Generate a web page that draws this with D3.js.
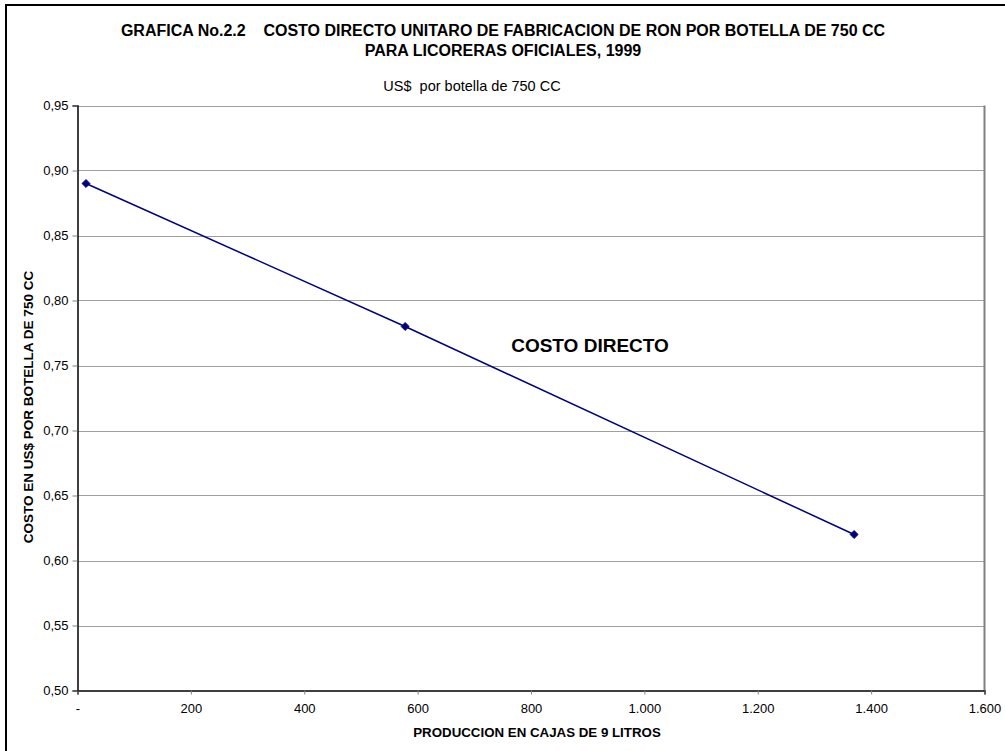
<!DOCTYPE html>
<html>
<head>
<meta charset="utf-8">
<script src="https://cdn.jsdelivr.net/npm/d3@7"></script>
<style>
  html, body { margin: 0; padding: 0; background: #fff; }
  svg { display: block; font-family: "Liberation Sans", Arial, sans-serif; }
</style>
</head>
<body>
<svg id="chart" width="1005" height="751"></svg>
<script>
// Production (cases of 9 litres) and direct unit cost (US$ per 750 cc bottle)
const produccion = [15, 578, 1370];
const costo = [0.89, 0.78, 0.62];

const xTickValues = [0, 200, 400, 600, 800, 1000, 1200, 1400, 1600];
const xTickLabels = ["-", "200", "400", "600", "800", "1.000", "1.200", "1.400", "1.600"];
const yTickValues = [0.50, 0.55, 0.60, 0.65, 0.70, 0.75, 0.80, 0.85, 0.90, 0.95];
const yTickLabels = ["0,50", "0,55", "0,60", "0,65", "0,70", "0,75", "0,80", "0,85", "0,90", "0,95"];

const titleLines = [
  "GRAFICA No.2.2\u00a0\u00a0\u00a0\u00a0COSTO DIRECTO UNITARO DE FABRICACION DE RON POR BOTELLA DE 750 CC",
  "PARA LICORERAS OFICIALES, 1999"
];
const subtitle = "US$\u00a0\u00a0por botella de 750 CC";
const xTitle = "PRODUCCION EN CAJAS DE 9 LITROS";
const yTitle = "COSTO EN US$ POR BOTELLA DE 750 CC";
const seriesLabel = "COSTO DIRECTO";

const svg = d3.select("#chart");
const plot = { left: 77.5, right: 984.5, top: 105.5, bottom: 690.5 };

const x = d3.scaleLinear().domain([0, 1600]).range([plot.left, plot.right]);
const y = d3.scaleLinear().domain([0.50, 0.95]).range([plot.bottom, plot.top]);

// outer chart frame (runs off the right and bottom edges)
svg.append("path")
  .attr("d", "M6,760 L6,5 L1015,5")
  .attr("fill", "none").attr("stroke", "#000").attr("stroke-width", 2);

// horizontal gridlines
svg.append("g")
  .selectAll("line")
  .data(yTickValues.filter(v => v > 0.5))
  .join("line")
  .attr("x1", plot.left).attr("x2", plot.right)
  .attr("y1", d => Math.round(y(d)) + 0.5).attr("y2", d => Math.round(y(d)) + 0.5)
  .attr("stroke", "#a0a0a0").attr("stroke-width", 1);

// right border of the plot area
svg.append("line")
  .attr("x1", plot.right).attr("x2", plot.right)
  .attr("y1", plot.top).attr("y2", plot.bottom)
  .attr("stroke", "#808080").attr("stroke-width", 2);

// y axis
const yAxis = d3.axisLeft(y)
  .tickValues(yTickValues)
  .tickFormat((d, i) => yTickLabels[i])
  .tickSize(5).tickPadding(4);
const gy = svg.append("g").attr("transform", `translate(${plot.left},0)`).call(yAxis);
gy.select(".domain").attr("stroke", "#000").attr("stroke-width", 1.5);
gy.selectAll(".tick line").attr("stroke", "#808080");
gy.selectAll(".tick text").attr("font-size", 13).attr("fill", "#000")
  .attr("font-family", "Liberation Sans, Arial, sans-serif");

// x axis
const xAxis = d3.axisBottom(x)
  .tickValues(xTickValues)
  .tickFormat((d, i) => xTickLabels[i])
  .tickSize(4).tickPadding(9);
const gx = svg.append("g").attr("transform", `translate(0,${plot.bottom})`).call(xAxis);
gx.select(".domain").attr("stroke", "#000").attr("stroke-width", 1.5);
gx.selectAll(".tick line").attr("stroke", "#808080");
gx.selectAll(".tick text").attr("font-size", 13).attr("fill", "#000")
  .attr("font-family", "Liberation Sans, Arial, sans-serif");

// series line
const pts = produccion.map((p, i) => [p, costo[i]]);
svg.append("path")
  .datum(pts)
  .attr("fill", "none")
  .attr("stroke", "#000080")
  .attr("stroke-width", 1.5)
  .attr("d", d3.line().x(d => x(d[0])).y(d => y(d[1])));

// diamond markers
svg.append("g")
  .selectAll("path")
  .data(pts)
  .join("path")
  .attr("transform", d => `translate(${x(d[0])},${y(d[1])})`)
  .attr("d", d3.symbol().type(d3.symbolDiamond2).size(40))
  .attr("fill", "#000080").attr("stroke", "#000080").attr("stroke-width", 1);

// titles
svg.append("text")
  .attr("x", 503).attr("y", 36)
  .attr("text-anchor", "middle").attr("font-weight", "bold").attr("font-size", 16)
  .text(titleLines[0]);
svg.append("text")
  .attr("x", 503).attr("y", 55.5)
  .attr("text-anchor", "middle").attr("font-weight", "bold").attr("font-size", 16)
  .text(titleLines[1]);
svg.append("text")
  .attr("x", 472).attr("y", 91)
  .attr("text-anchor", "middle").attr("font-size", 14.5)
  .text(subtitle);

// axis titles
svg.append("text")
  .attr("x", 537).attr("y", 737)
  .attr("text-anchor", "middle").attr("font-weight", "bold").attr("font-size", 13.3)
  .text(xTitle);
svg.append("text")
  .attr("transform", "translate(33,407) rotate(-90)")
  .attr("text-anchor", "middle").attr("font-weight", "bold").attr("font-size", 13.5)
  .text(yTitle);

// series label
svg.append("text")
  .attr("x", 590).attr("y", 352)
  .attr("text-anchor", "middle").attr("font-weight", "bold").attr("font-size", 19)
  .text(seriesLabel);
</script>
</body>
</html>
